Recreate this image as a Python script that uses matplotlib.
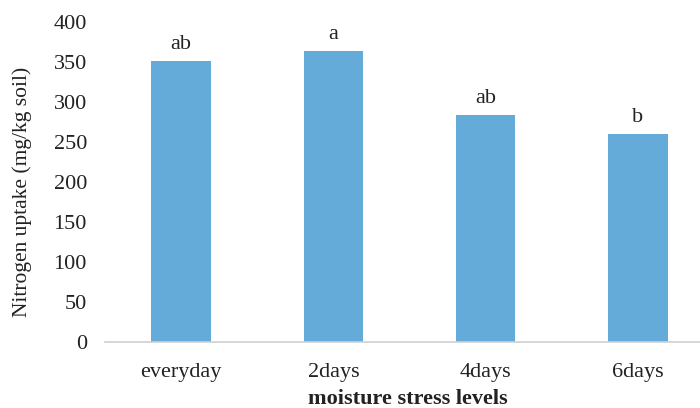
import numpy as np
import matplotlib
matplotlib.use("Agg")
from matplotlib import pyplot as plt

# data
levels = ["everyday", "2days", "4days", "6days"]
uptake = [351, 364, 284, 260]
letters = ["ab", "a", "ab", "b"]
yticks = [0, 50, 100, 150, 200, 250, 300, 350, 400]

plt.rcParams['font.family'] = ['Liberation Serif', 'DejaVu Serif']

fig = plt.figure(figsize=(7, 4.08), dpi=100)
ax = fig.add_axes([0.15, 0.162, 0.87, 0.784])

x = np.arange(len(levels))
bars = ax.bar(x, uptake, width=0.39, color="#65ABDA")

# significance letters above the bars
for b, lab in zip(bars, letters):
    ax.annotate(lab, (b.get_x() + b.get_width() / 2, b.get_height()),
                xytext=(0, 5), textcoords="offset points",
                ha="center", va="bottom", fontsize=16, color="#222222")

ax.set_xlim(-0.5, 3.5)
ax.set_ylim(0, 400)
ax.set_yticks(yticks)
ax.set_xticks(x)
ax.set_xticklabels(levels)
ax.tick_params(axis="both", length=0, labelsize=16, colors="#222222")
ax.tick_params(axis="x", pad=15)
ax.tick_params(axis="y", pad=13)

for s in ["top", "right", "left"]:
    ax.spines[s].set_visible(False)
ax.spines["bottom"].set_color("#d0d0d0")
ax.spines["bottom"].set_linewidth(1.2)

ax.set_ylabel("Nitrogen uptake (mg/kg soil)", fontsize=15.5, color="#222222",
              va="center")
ax.set_xlabel("moisture stress levels", fontsize=16, fontweight="bold",
              color="#222222", va="center")
ax.yaxis.set_label_coords(-0.136, 0.47)
ax.xaxis.set_label_coords(0.4975, -0.177)

fig.savefig("out.png", dpi=100)
